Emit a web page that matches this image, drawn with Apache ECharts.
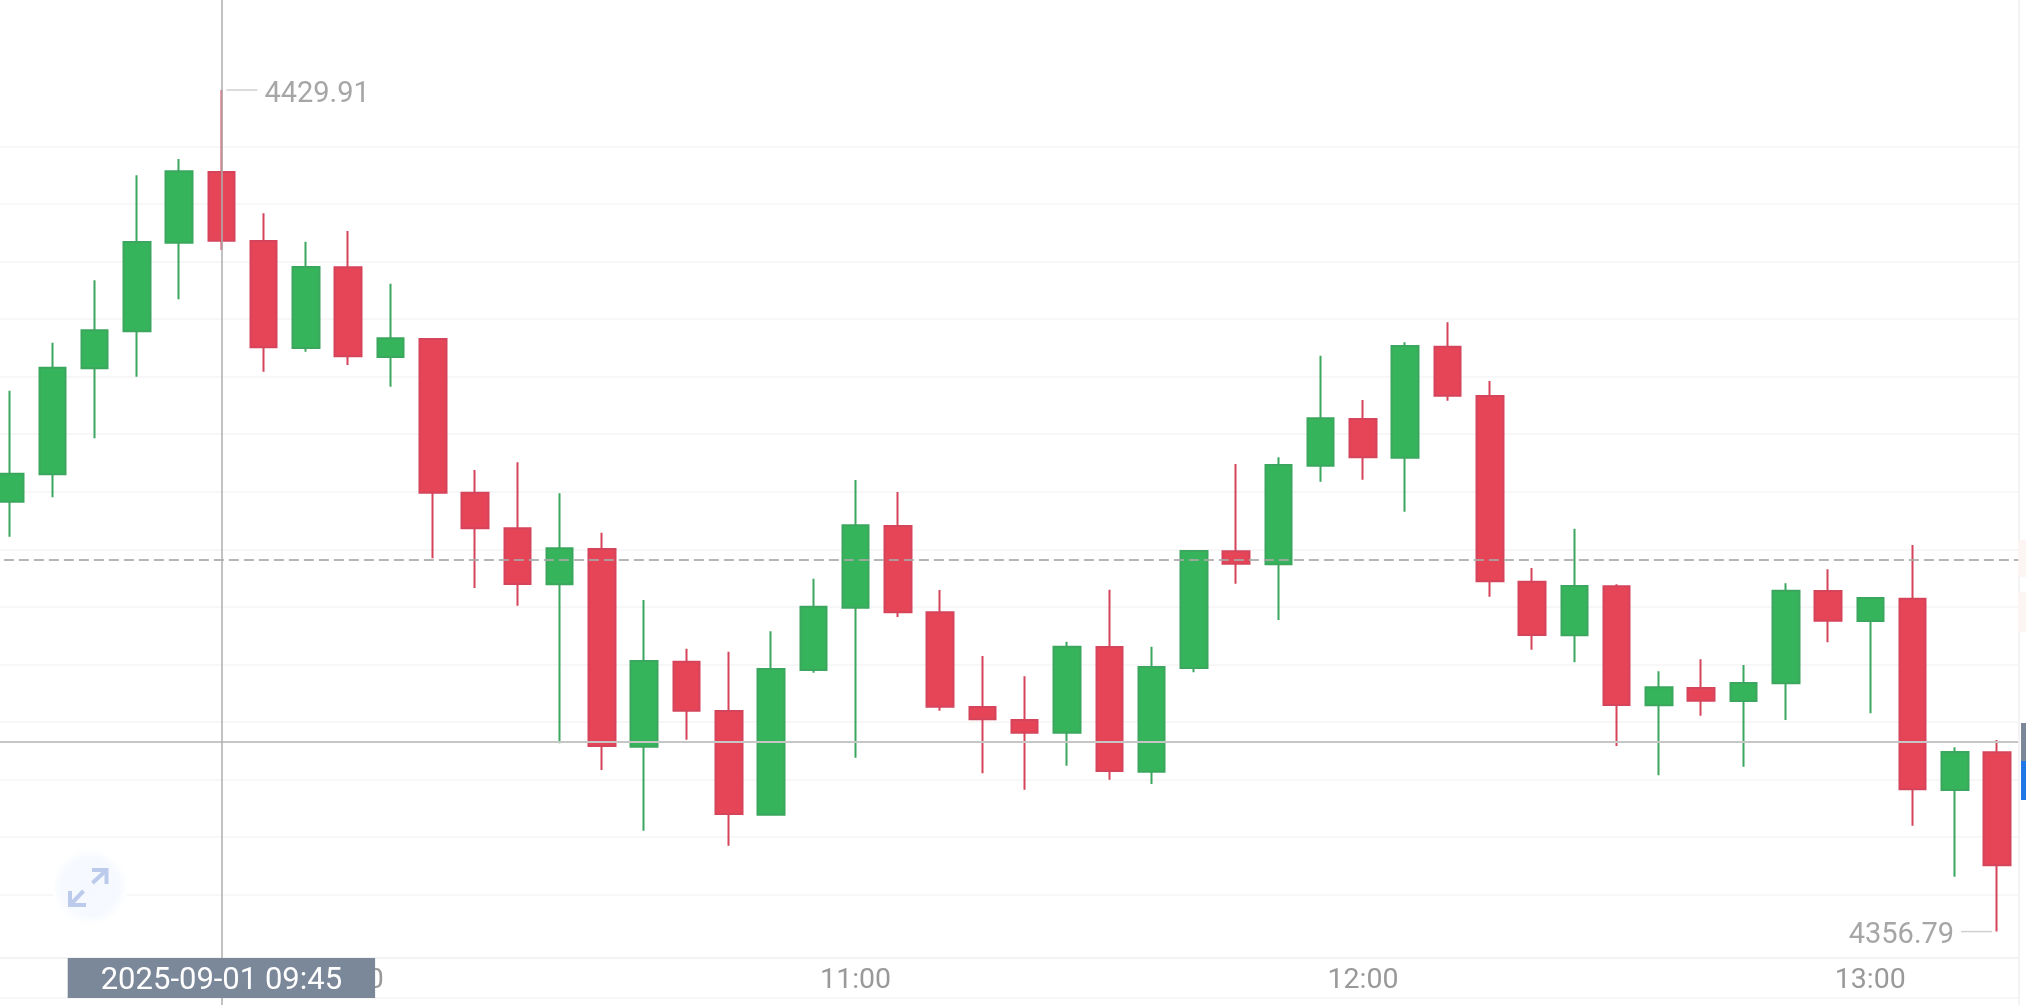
<!DOCTYPE html>
<html>
<head>
<meta charset="utf-8">
<style>
  html, body { margin: 0; padding: 0; background: #fff; }
  #chart { width: 2026px; height: 1005px; }
</style>
<script src="https://cdn.jsdelivr.net/npm/echarts@6/dist/echarts.min.js"></script>
</head>
<body>
<div id="chart"></div>
<script>
var times = ['09:20','09:25','09:30','09:35','09:40','09:45','09:50','09:55','10:00','10:05','10:10','10:15',
  '10:20','10:25','10:30','10:35','10:40','10:45','10:50','10:55','11:00','11:05','11:10','11:15',
  '11:20','11:25','11:30','11:35','11:40','11:45','11:50','11:55','12:00','12:05','12:10','12:15',
  '12:20','12:25','12:30','12:35','12:40','12:45','12:50','12:55','13:00','13:05','13:10','13:15'];
var opens = [4394.14,4396.52,4405.73,4408.94,4416.64,4422.78,4416.79,4407.49,4414.50,4406.71,4408.28,4394.92,
  4391.83,4386.96,4390.03,4372.85,4380.24,4375.96,4366.95,4379.52,4384.93,4392.03,4384.53,4376.30,
  4375.17,4374.07,4381.52,4370.68,4379.69,4389.83,4388.70,4397.27,4401.32,4397.96,4407.61,4403.32,
  4387.19,4382.53,4386.79,4376.45,4377.95,4376.82,4378.36,4386.38,4383.77,4385.71,4369.09,4372.37];
var closes = [4396.57,4405.78,4409.03,4416.70,4422.85,4416.82,4407.55,4414.53,4406.77,4408.34,4394.92,4391.83,
  4386.99,4390.09,4372.91,4380.30,4375.98,4367.01,4379.60,4385.02,4392.09,4384.53,4376.33,4375.23,
  4374.07,4381.54,4370.74,4379.78,4389.86,4388.75,4397.33,4401.39,4398.00,4407.67,4403.35,4387.22,
  4382.56,4386.82,4376.48,4378.01,4376.85,4378.39,4386.41,4383.80,4385.77,4369.15,4372.39,4362.55];
var lows = [4391.10,4394.52,4399.65,4405.00,4411.72,4416.01,4405.43,4407.17,4406.02,4404.13,4389.22,4386.64,
  4385.10,4373.15,4370.83,4365.56,4373.46,4364.25,4366.95,4379.28,4371.90,4384.12,4375.98,4370.54,
  4369.12,4371.20,4369.99,4369.61,4379.32,4387.02,4383.86,4395.88,4396.05,4393.27,4402.91,4385.89,
  4381.28,4380.19,4372.91,4370.37,4375.55,4371.12,4375.17,4381.92,4375.76,4365.99,4361.56,4356.79];
var highs = [4403.78,4407.95,4413.38,4422.50,4423.91,4429.91,4419.20,4416.73,4417.66,4413.08,4408.28,4396.89,
  4397.56,4394.87,4391.45,4385.60,4381.37,4381.11,4382.88,4387.45,4396.03,4394.98,4386.47,4380.73,
  4378.97,4381.98,4386.49,4381.54,4389.86,4397.42,4398.00,4406.82,4402.98,4407.99,4409.73,4404.63,
  4388.38,4391.79,4386.96,4379.40,4380.45,4379.95,4387.05,4388.27,4385.77,4390.38,4372.80,4373.44];
var tickLabels = ['10:00','11:00','12:00','13:00'];
var gridPrices = [4360,4365,4370,4375,4380,4385,4390,4395,4400,4405,4410,4415,4420,4425,4351];
var dashedPrice = 4389.10;
var crossPrice = 4373.26;
var crossTime = '09:45';
var crossLabel = '2025-09-01 09:45';
var maxIndex = 5;
var minIndex = 47;

var candleData = [];
for (var i = 0; i < times.length; i++) {
  candleData.push([opens[i], closes[i], lows[i], highs[i]]);
}

var font = 'Roboto, "Noto Sans", sans-serif';
var arrowColor = '#bccbec';
var chart = echarts.init(document.getElementById('chart'));
chart.setOption({
  animation: false,
  backgroundColor: '#fff',
  grid: { left: -11.14, width: 2029.44, top: 0, height: 1005, outerBoundsMode: 'none' },
  xAxis: {
    type: 'category',
    data: times,
    offset: -47,
    boundaryGap: true,
    axisLine: { show: true, lineStyle: { color: '#f3f3f5', width: 2 } },
    axisTick: { show: false },
    splitLine: { show: false },
    axisLabel: {
      margin: 8,
      color: '#999',
      fontSize: 28.5,
      fontFamily: font,
      interval: function (index, value) { return tickLabels.indexOf(value) >= 0; }
    },
    axisPointer: {
      show: true,
      status: 'show',
      triggerOn: 'none',
      value: times.indexOf(crossTime),
      lineStyle: { color: '#aeaeae', width: 1.5, type: 'solid' },
      label: {
        show: true,
        margin: 0,
        formatter: function () { return crossLabel; },
        backgroundColor: '#7b8899',
        borderRadius: 0,
        color: '#fff',
        fontSize: 31,
        fontFamily: font,
        padding: [8, 33, 1, 33]
      }
    }
  },
  yAxis: {
    type: 'value',
    position: 'right',
    min: 4350.41,
    max: 4437.73,
    axisLine: { show: true, lineStyle: { color: '#f3f3f5', width: 2 } },
    axisTick: { show: false, customValues: gridPrices },
    axisLabel: { show: false },
    splitLine: { show: true, lineStyle: { color: '#f4f4f6', width: 1.5 } },
    axisPointer: {
      show: true,
      status: 'show',
      triggerOn: 'none',
      value: crossPrice,
      lineStyle: { color: '#c6c6c6', width: 2, type: 'solid' },
      label: { show: false }
    }
  },
  series: [{
    type: 'candlestick',
    data: candleData,
    barWidth: 27,
    itemStyle: {
      color: '#36b45b',
      color0: '#e64558',
      borderColor: '#3ba65e',
      borderColor0: '#d5445a',
      borderWidth: 2
    },
    markLine: {
      silent: true,
      symbol: 'none',
      label: { show: false },
      lineStyle: { color: '#a8a8a8', width: 2, type: [10, 5], opacity: 0.85 },
      data: [{ yAxis: dashedPrice }]
    },
    markPoint: {
      silent: true,
      symbol: 'rect',
      itemStyle: { color: '#cfcfcf' },
      data: [{
        coord: [maxIndex, highs[maxIndex]],
        value: highs[maxIndex],
        symbolSize: [31, 1.5],
        symbolOffset: [20.5, 0],
        label: { position: 'right', distance: 7, offset: [0, 5], color: '#a6a6a6', fontSize: 29, fontFamily: font }
      }, {
        coord: [minIndex, lows[minIndex]],
        value: lows[minIndex],
        symbolSize: [31, 1.5],
        symbolOffset: [-20.5, 0],
        label: { position: 'left', distance: 7, offset: [0, 4], color: '#a6a6a6', fontSize: 29, fontFamily: font }
      }]
    }
  }],
  graphic: [
    {
      type: 'circle',
      shape: { cx: 90, cy: 887, r: 38 },
      style: {
        fill: new echarts.graphic.RadialGradient(0.5, 0.5, 0.5, [
          { offset: 0, color: '#f5f8fe' },
          { offset: 0.75, color: '#f6f9fe' },
          { offset: 1, color: '#ffffff' }
        ])
      },
      z: 1
    },
    { type: 'polyline', shape: { points: [[92, 870], [106.5, 870], [106.5, 884]] }, style: { stroke: arrowColor, lineWidth: 4, fill: null }, z: 2 },
    { type: 'line', shape: { x1: 106, y1: 870.5, x2: 92.5, y2: 883 }, style: { stroke: arrowColor, lineWidth: 4 }, z: 2 },
    { type: 'polyline', shape: { points: [[70, 891], [70, 905], [86, 905]] }, style: { stroke: arrowColor, lineWidth: 4, fill: null }, z: 2 },
    { type: 'line', shape: { x1: 70.5, y1: 904.5, x2: 83.5, y2: 891 }, style: { stroke: arrowColor, lineWidth: 4 }, z: 2 },
    { type: 'rect', shape: { x: 2021, y: 723, width: 5, height: 38 }, style: { fill: '#7b8899' }, z: 60 },
    { type: 'rect', shape: { x: 2021, y: 761, width: 5, height: 39 }, style: { fill: '#1f78e6' }, z: 60 },
    { type: 'rect', shape: { x: 2018, y: 540, width: 8, height: 37 }, style: { fill: '#fdf5f4' }, z: 1 },
    { type: 'rect', shape: { x: 2018, y: 592, width: 8, height: 40 }, style: { fill: '#fdf5f4' }, z: 1 }
  ]
});
</script>
</body>
</html>
